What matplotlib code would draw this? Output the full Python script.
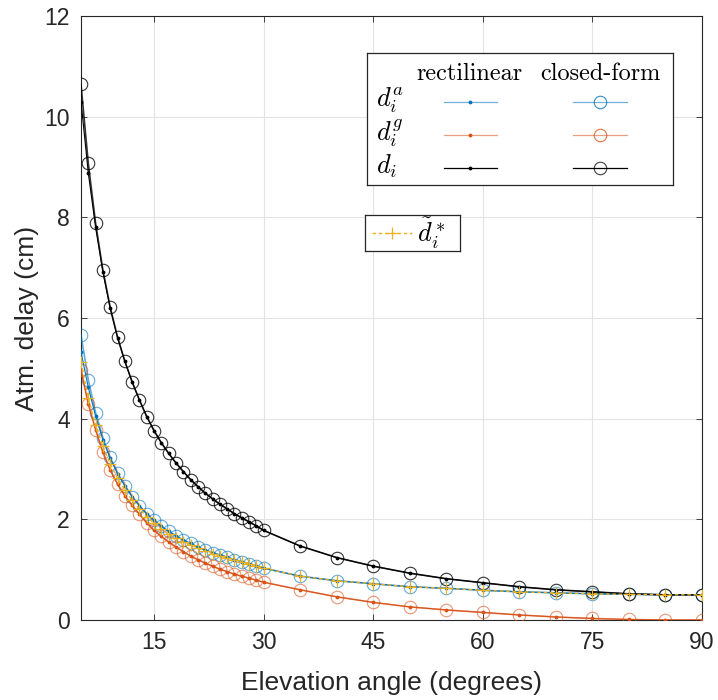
import matplotlib
matplotlib.use("Agg")
import matplotlib.pyplot as plt
import numpy as np

# ─────────────────────────── data ─────────────────────────────────────────────

ELEV = list(range(5, 31)) + list(range(35, 91, 5))

# closed-form estimates
DA_CF = [5.67, 4.77, 4.12, 3.62, 3.23, 2.92, 2.67, 2.45, 2.27, 2.11,
         1.98, 1.86, 1.76, 1.67, 1.59, 1.52, 1.45, 1.39, 1.34, 1.29,
         1.25, 1.20, 1.16, 1.12, 1.08, 1.03,
         0.87, 0.78, 0.72, 0.66, 0.63, 0.59, 0.56, 0.54, 0.52, 0.51, 0.50, 0.50]
DG_CF = [4.97, 4.29, 3.78, 3.33, 2.98, 2.70, 2.47, 2.28, 2.10, 1.93,
         1.78, 1.66, 1.55, 1.45, 1.36, 1.27, 1.20, 1.13, 1.07, 1.01,
         0.96, 0.91, 0.87, 0.83, 0.79, 0.75,
         0.60, 0.46, 0.35, 0.26, 0.20, 0.15, 0.10, 0.06, 0.03, 0.01, 0.00, 0.00]
D_CF = [10.64, 9.07, 7.88, 6.95, 6.21, 5.62, 5.14, 4.73, 4.37, 4.04,
        3.76, 3.52, 3.31, 3.12, 2.95, 2.79, 2.65, 2.52, 2.41, 2.30,
        2.21, 2.11, 2.03, 1.95, 1.87, 1.78,
        1.47, 1.24, 1.07, 0.93, 0.82, 0.74, 0.66, 0.60, 0.56, 0.52, 0.50, 0.50]

# rectilinear estimates
DA_RL = [5.33, 4.62, 4.05, 3.58, 3.21, 2.91, 2.67, 2.45, 2.27, 2.11,
         1.98, 1.86, 1.76, 1.67, 1.59, 1.52, 1.45, 1.39, 1.34, 1.29,
         1.25, 1.20, 1.16, 1.12, 1.08, 1.03,
         0.87, 0.78, 0.72, 0.66, 0.63, 0.59, 0.56, 0.54, 0.52, 0.51, 0.50, 0.50]
DG_RL = [4.97, 4.29, 3.78, 3.33, 2.98, 2.70, 2.47, 2.28, 2.10, 1.93,
         1.78, 1.66, 1.55, 1.45, 1.36, 1.27, 1.20, 1.13, 1.07, 1.01,
         0.96, 0.91, 0.87, 0.83, 0.79, 0.75,
         0.60, 0.46, 0.35, 0.26, 0.20, 0.15, 0.10, 0.06, 0.03, 0.01, 0.00, 0.00]
D_RL = [10.30, 8.88, 7.80, 6.91, 6.19, 5.61, 5.14, 4.73, 4.37, 4.04,
        3.76, 3.52, 3.31, 3.12, 2.95, 2.79, 2.65, 2.52, 2.41, 2.30,
        2.21, 2.11, 2.03, 1.95, 1.87, 1.78,
        1.47, 1.24, 1.07, 0.93, 0.82, 0.74, 0.66, 0.60, 0.56, 0.52, 0.50, 0.50]

# d tilde star
D_STAR = [5.12, 4.42, 3.87, 3.45, 3.10, 2.82, 2.58, 2.38, 2.21, 2.05,
          1.92, 1.81, 1.71, 1.63, 1.55, 1.49, 1.43, 1.37, 1.32, 1.27,
          1.23, 1.19, 1.15, 1.11, 1.07, 1.03,
          0.87, 0.78, 0.72, 0.66, 0.63, 0.59, 0.56, 0.54, 0.52, 0.51, 0.50, 0.50]

X_TICKS = [15, 30, 45, 60, 75, 90]
Y_TICKS = [0, 2, 4, 6, 8, 10, 12]

# ─────────────────────────── style ────────────────────────────────────────────

BLUE = "#0072BD"
ORANGE = "#D95319"
YELLOW = "#EDB120"
BLACK = "#000000"
AXC = "#262626"

plt.rcParams["font.family"] = ["Liberation Sans", "DejaVu Sans"]
plt.rcParams["mathtext.fontset"] = "cm"

fig = plt.figure(figsize=(7.18, 7.00), dpi=100)
ax = fig.add_axes([81 / 718, 80 / 700, 621 / 718, 604 / 700])

series = [(DA_CF, DA_RL, BLUE), (DG_CF, DG_RL, ORANGE), (D_CF, D_RL, BLACK)]
for cf, rl, col in series:
    ax.plot(ELEV, cf, color=col, lw=1.2, alpha=0.6 if col != BLACK else 0.8,
            marker="o", ms=9, mfc="none", mew=0.8, zorder=3)
    ax.plot(ELEV, rl, color=col, lw=0.8, marker=".", ms=3.5, zorder=4)

ax.plot(ELEV, D_STAR, color=YELLOW, lw=1.0, ls=(0, (2.5, 2)),
        marker="+", ms=9, mew=0.9, zorder=5)

ax.set_xlim(5, 90)
ax.set_ylim(0, 12)
ax.set_xticks(X_TICKS)
ax.set_yticks(Y_TICKS)
ax.tick_params(direction="in", length=4, width=0.6, colors=AXC,
               labelsize=16.5, top=True, right=True, pad=8)
ax.grid(True, color="#e3e3e3", lw=0.8)
ax.set_axisbelow(True)
for sp in ax.spines.values():
    sp.set_color(AXC)
    sp.set_linewidth(0.8)
ax.set_xlabel("Elevation angle (degrees)", fontsize=19, color=AXC, labelpad=12)
ax.set_ylabel("Atm. delay (cm)", fontsize=19, color=AXC, labelpad=4)

# ─────────────────────────── legend boxes ─────────────────────────────────────

def legend_panel(x0, y0, x1, y1):
    lax = fig.add_axes([x0 / 718, (700 - y1) / 700, (x1 - x0) / 718, (y1 - y0) / 700])
    lax.set_xlim(x0, x1)
    lax.set_ylim(y1, y0)
    lax.set_xticks([])
    lax.set_yticks([])
    lax.set_facecolor("white")
    for sp in lax.spines.values():
        sp.set_color(AXC)
        sp.set_linewidth(0.9)
    return lax

lg = legend_panel(367, 53, 673, 185)
lg.text(469, 74, "rectilinear", family="cmr10", fontsize=17.5,
        ha="center", va="center")
lg.text(600, 74, "closed-form", family="cmr10", fontsize=17.5,
        ha="center", va="center")
rows = [(r"$d_i^a$", BLUE, 102), (r"$d_i^g$", ORANGE, 135), (r"$d_i$", BLACK, 168)]
for lab, col, yy in rows:
    lg.text(376, yy - 2, lab, fontsize=19, ha="left", va="center")
    lg.plot([444, 497], [yy, yy], color=col, lw=0.9,
            alpha=0.55 if col != BLACK else 1)
    lg.plot([470], [yy], color=col, marker=".", ms=3.5)
    lg.plot([573, 627], [yy, yy], color=col, lw=0.9,
            alpha=0.55 if col != BLACK else 1)
    lg.plot([600], [yy], color=col, marker="o", ms=9, mfc="none", mew=0.8,
            alpha=0.8 if col != BLACK else 0.75)

lg2 = legend_panel(365, 215, 460, 251)
lg2.plot([372, 412], [233, 233], color=YELLOW, lw=1.0, ls=(0, (2.5, 2)))
lg2.plot([392], [233], color=YELLOW, marker="+", ms=9, mew=0.9)
lg2.text(417, 233, r"$\tilde{d}_i^*$", fontsize=19, ha="left", va="center")

fig.savefig("out.png", dpi=100, facecolor="white")
